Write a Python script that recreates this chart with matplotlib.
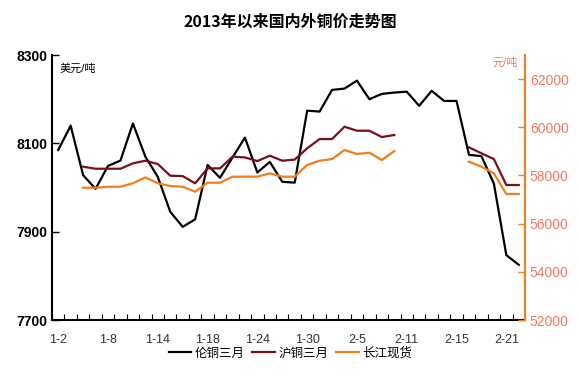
import matplotlib
matplotlib.use('Agg')
import matplotlib.pyplot as plt
import numpy as np

plt.rcParams['font.family'] = ['Liberation Sans', 'Noto Sans CJK SC', 'DejaVu Sans']

# trading days, 2013-01-02 .. 2013-02-22
dates = ['1-2', '1-3', '1-4', '1-7', '1-8', '1-9', '1-10', '1-11', '1-14', '1-15',
         '1-16', '1-17', '1-18', '1-21', '1-22', '1-23', '1-24', '1-25', '1-28', '1-29',
         '1-30', '1-31', '2-1', '2-4', '2-5', '2-6', '2-7', '2-8', '2-11', '2-12',
         '2-13', '2-14', '2-15', '2-18', '2-19', '2-20', '2-21', '2-22']

# 伦铜三月 (美元/吨, left axis)
lme = [8085, 8140, 8028, 7997, 8049, 8061, 8145, 8070, 8024, 7945,
       7911, 7928, 8051, 8022, 8068, 8113, 8034, 8058, 8013, 8011,
       8174, 8172, 8221, 8224, 8242, 8200, 8212, 8215, 8217, 8185,
       8219, 8196, 8196, 8074, 8071, 8009, 7847, 7825]

nan = np.nan
# 沪铜三月 (元/吨, right axis)
shfe = [nan, nan, 58364, 58280, 58280, 58280, 58504, 58613, 58475, 57990,
        57975, 57674, 58295, 58295, 58780, 58750, 58600, 58820, 58613, 58660,
        59127, 59513, 59513, 60024, 59858, 59858, 59596, 59679, nan, nan,
        nan, nan, nan, 59168, 58920, 58683, 57604, 57604]

# 长江现货 (元/吨, right axis)
cj = [nan, nan, 57492, 57492, 57533, 57533, 57675, 57923, 57675, 57562,
      57533, 57326, 57700, 57700, 57950, 57950, 57950, 58090, 57950, 57950,
      58434, 58613, 58683, 59057, 58890, 58945, 58640, 59015, nan, nan,
      nan, nan, nan, 58571, 58364, 58090, 57230, 57230]

orange = '#F07D1E'
darkred = '#7A0E1C'
rlabel = '#EE7A5E'

fig = plt.figure(figsize=(5.81, 3.81), dpi=100)
ax = fig.add_axes([0.0895, 0.160, 0.8141, 0.6956])
ax2 = ax.twinx()

x = np.arange(len(dates))
l1, = ax.plot(x, lme, color='black', lw=1.6, label='伦铜三月')
l2, = ax2.plot(x, shfe, color=darkred, lw=1.6, label='沪铜三月')
l3, = ax2.plot(x, cj, color=orange, lw=1.6, label='长江现货')

ax.set_xlim(-0.5, len(dates) - 0.5)
ax.set_ylim(7700, 8300)
ax.set_yticks([7700, 7900, 8100, 8300])
ax2.set_ylim(52000, 63000)
ax2.set_yticks(np.arange(52000, 62001, 2000))

ax.set_xticks(x[::4])
ax.set_xticklabels(dates[::4], fontsize=9, color='#333333')
ax.set_xticks(np.arange(-0.5, len(dates), 1), minor=True)
ax.tick_params(axis='x', which='major', length=0, pad=10)
ax.tick_params(axis='x', which='minor', direction='in', length=4, width=0.8)
ax.tick_params(axis='y', direction='in', length=5, width=1, labelsize=10)
for t in ax.get_yticklabels():
    t.set_fontweight('bold')
ax2.tick_params(axis='y', direction='in', length=5, width=1, colors=orange,
                labelcolor=rlabel, labelsize=10)

for a in (ax, ax2):
    a.spines['top'].set_visible(False)
ax.spines['right'].set_visible(False)
ax2.spines['left'].set_visible(False)
ax2.spines['bottom'].set_visible(False)
ax.spines['left'].set_linewidth(1.5)
ax.spines['bottom'].set_linewidth(1.5)
ax2.spines['right'].set_color(orange)
ax2.spines['right'].set_linewidth(1.5)

ax.text(0.015, 0.95, '美元/吨', transform=ax.transAxes, fontsize=8, ha='left', va='center')
ax2.text(0.985, 0.97, '元/吨', transform=ax.transAxes, fontsize=8, ha='right',
         va='center', color=rlabel)

fig.text(0.5, 0.942, '2013年以来国内外铜价走势图', ha='center', va='center',
         fontsize=11.5, fontweight='bold', family=['Noto Sans CJK SC'])

fig.legend([l1, l2, l3], ['伦铜三月', '沪铜三月', '长江现货'], loc='center',
           bbox_to_anchor=(0.5, 0.072), ncol=3, frameon=False, fontsize=9,
           handlelength=1.8, handletextpad=0.3, columnspacing=0.6)

plt.savefig('out.png', dpi=100)
